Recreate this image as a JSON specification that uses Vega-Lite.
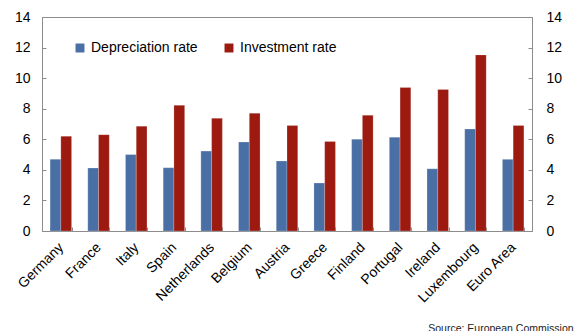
{
  "$schema": "https://vega.github.io/schema/vega-lite/v6.json",
  "width": 490,
  "height": 214,
  "autosize": {"type": "none"},
  "padding": {"left": 42, "top": 17, "right": 42, "bottom": 100},
  "background": "white",
  "config": {
    "font": "Liberation Sans",
    "view": {"stroke": "#8c8c8c", "strokeWidth": 1},
    "axis": {"grid": false, "domainColor": "#8c8c8c", "tickColor": "#8c8c8c", "labelColor": "#000000", "labelFontSize": 14, "labelFont": "Liberation Sans"}
  },
  "title": {
    "text": "Source: European Commission",
    "orient": "bottom",
    "anchor": "end",
    "fontSize": 10.5,
    "fontWeight": "normal",
    "color": "#222222",
    "dx": 12,
    "offset": 19
  },
  "data": {
    "values": [
      {"country": "Germany", "series": "Depreciation rate", "value": 4.69},
      {"country": "Germany", "series": "Investment rate", "value": 6.2},
      {"country": "France", "series": "Depreciation rate", "value": 4.12},
      {"country": "France", "series": "Investment rate", "value": 6.3},
      {"country": "Italy", "series": "Depreciation rate", "value": 5.0},
      {"country": "Italy", "series": "Investment rate", "value": 6.86},
      {"country": "Spain", "series": "Depreciation rate", "value": 4.14},
      {"country": "Spain", "series": "Investment rate", "value": 8.22},
      {"country": "Netherlands", "series": "Depreciation rate", "value": 5.23},
      {"country": "Netherlands", "series": "Investment rate", "value": 7.37},
      {"country": "Belgium", "series": "Depreciation rate", "value": 5.82},
      {"country": "Belgium", "series": "Investment rate", "value": 7.71},
      {"country": "Austria", "series": "Depreciation rate", "value": 4.58},
      {"country": "Austria", "series": "Investment rate", "value": 6.9},
      {"country": "Greece", "series": "Depreciation rate", "value": 3.14},
      {"country": "Greece", "series": "Investment rate", "value": 5.86},
      {"country": "Finland", "series": "Depreciation rate", "value": 6.01},
      {"country": "Finland", "series": "Investment rate", "value": 7.58},
      {"country": "Portugal", "series": "Depreciation rate", "value": 6.14},
      {"country": "Portugal", "series": "Investment rate", "value": 9.39},
      {"country": "Ireland", "series": "Depreciation rate", "value": 4.07},
      {"country": "Ireland", "series": "Investment rate", "value": 9.26},
      {"country": "Luxembourg", "series": "Depreciation rate", "value": 6.67},
      {"country": "Luxembourg", "series": "Investment rate", "value": 11.52},
      {"country": "Euro Area", "series": "Depreciation rate", "value": 4.69},
      {"country": "Euro Area", "series": "Investment rate", "value": 6.9}
    ]
  },
  "encoding": {
    "x": {
      "field": "country",
      "type": "nominal",
      "sort": null,
      "scale": {"paddingInner": 0.43, "paddingOuter": 0.215},
      "axis": {"title": null, "labelAngle": -45, "labelAlign": "right", "labelBaseline": "middle", "tickBand": "extent", "tickSize": -4, "labelPadding": 18, "domainColor": "#8c8c8c"}
    },
    "xOffset": {"field": "series", "type": "nominal", "scale": {"paddingInner": 0}},
    "color": {
      "field": "series",
      "type": "nominal",
      "scale": {"domain": ["Depreciation rate", "Investment rate"], "range": ["#4a6fa5", "#9c1a10"]},
      "legend": {"title": null, "orient": "none", "legendX": 31, "legendY": 24, "direction": "horizontal", "symbolType": "square", "symbolSize": 80, "labelFontSize": 14, "labelFont": "Liberation Sans", "columnPadding": 24, "symbolStrokeWidth": 0}
    }
  },
  "layer": [
    {
      "mark": {"type": "bar", "stroke": "#ffffff", "strokeOpacity": 0.35, "strokeWidth": 0.6},
      "encoding": {
        "y": {"field": "value", "type": "quantitative", "scale": {"domain": [0, 14], "nice": false}, "axis": {"title": null, "orient": "left", "values": [0, 2, 4, 6, 8, 10, 12, 14], "tickSize": -4, "labelPadding": 16}}
      }
    },
    {
      "mark": {"type": "bar", "opacity": 0},
      "encoding": {
        "y": {"field": "value", "type": "quantitative", "scale": {"domain": [0, 14], "nice": false}, "axis": {"title": null, "orient": "right", "values": [0, 2, 4, 6, 8, 10, 12, 14], "tickSize": -4, "labelPadding": 18}}
      }
    }
  ],
  "resolve": {"scale": {"y": "independent"}, "axis": {"y": "independent"}}
}
